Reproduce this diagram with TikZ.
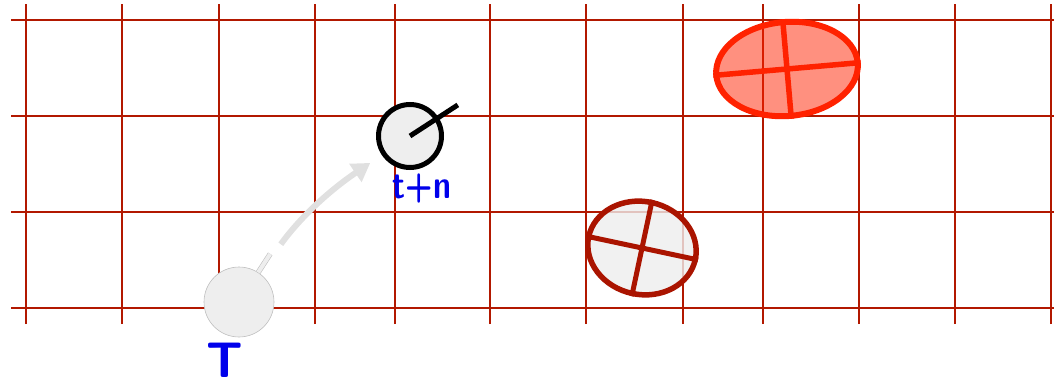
\documentclass[tikz,border=0pt]{standalone}
\usetikzlibrary{positioning,arrows.meta,shapes.geometric}
\definecolor{Grid}{RGB}{178,24,0}
\definecolor{Pale}{RGB}{238,238,238}
\definecolor{Rust}{RGB}{170,20,0}
\definecolor{Flame}{RGB}{255,34,0}
\definecolor{Ink}{RGB}{0,0,235}

\begin{document}
\begin{tikzpicture}[x=1pt,y=1pt,node distance=4pt,
 g/.style={Grid,line width=2pt},
 ps/.style={circle,fill=Pale,inner sep=0pt},
 lb/.style={text=Ink,inner sep=0pt},
 ov/.style={ellipse,inner sep=0pt},
 mv/.style={-{Triangle[length=18pt,width=21pt]},line width=6pt,draw=black!12}]
\useasboundingbox (0,0) rectangle (1054,386);
% grid
\foreach \y in {78,174,270,366} \draw[g] (11,\y)--(1054,\y);
\foreach \x in {26,122,219,315,395,490,586,683,763,859,955,1051} \draw[g] (\x,62)--(\x,382);
% obstacles
\node[ov,draw=Rust,line width=5.5pt,fill=Pale,fill opacity=.8,minimum width=109pt,minimum height=93pt,rotate=-12] (oLo) at (642,138) {};
\draw[Rust,line width=5pt] (oLo.west)--(oLo.east) (oLo.north)--(oLo.south);
\node[ov,draw=Flame,line width=6pt,fill=Flame,fill opacity=.5,minimum width=142pt,minimum height=94pt,rotate=5] (oHi) at (787,317) {};
\draw[Flame,line width=5.5pt] (oHi.west)--(oHi.east) (oHi.north)--(oHi.south);
% poses
\node[ps,draw=black!25,line width=.6pt,minimum size=70pt] (pT) at (239,84) {};
\draw[double=Pale,double distance=4pt,draw=black!25,line width=.6pt] (pT.57) -- ++(57:22);
\node[ps,draw=black,line width=5pt,minimum size=63pt] (pN) at (410,250) {};
\draw[line width=5pt] (pN.center) -- ++(33:57);
\draw[mv,shorten <=36pt,shorten >=14pt] (pT) to[bend left=10] (pN);
\node[lb,font=\fontsize{50}{50}\sffamily\bfseries,below=6pt of pT,xshift=-14pt] (lT) {T};
\node[lb,font=\fontsize{40}{40}\sffamily\bfseries,xscale=.8,transform shape,below=4pt of pN,xshift=15pt] (lN) {t+n};
\end{tikzpicture}
\end{document}
